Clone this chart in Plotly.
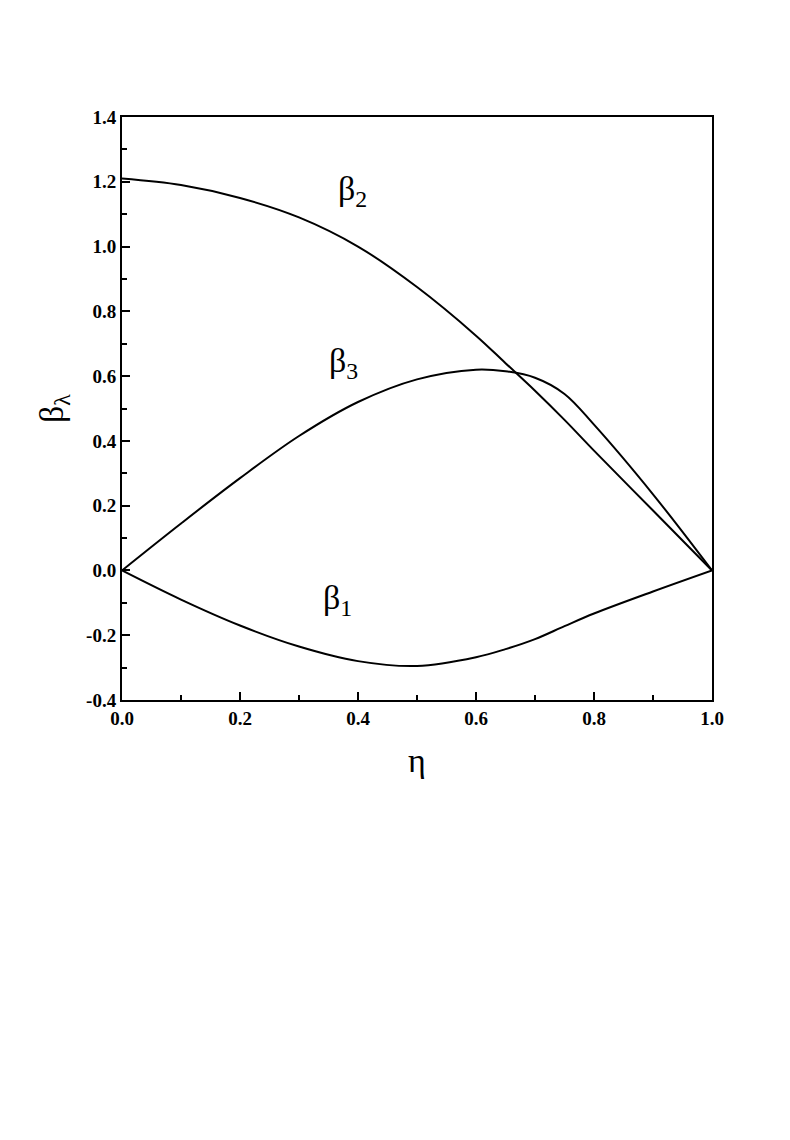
import plotly.graph_objects as go

# values
eta = [0.0, 0.1, 0.2, 0.3, 0.4, 0.5, 0.6, 0.65, 0.7, 0.75, 0.8, 0.9, 1.0]
beta2 = [1.21, 1.19, 1.15, 1.09, 1.0, 0.875, 0.725, 0.64, 0.555, 0.465, 0.37, 0.185, 0.0]
beta3 = [0.0, 0.145, 0.285, 0.415, 0.52, 0.59, 0.62, 0.615, 0.595, 0.545, 0.45, 0.235, 0.0]
beta1 = [0.0, -0.09, -0.17, -0.235, -0.28, -0.295, -0.268, -0.243, -0.212, -0.172, -0.133, -0.065, 0.0]

y_ticks = [-0.4, -0.2, 0.0, 0.2, 0.4, 0.6, 0.8, 1.0, 1.2, 1.4]
y_ticktext = ['-0.4', '-0.2', '0.0', '0.2', '0.4', '0.6', '0.8', '1.0', '1.2', '1.4']

lbl_txt = ['β<sub>2</sub>', 'β<sub>3</sub>', 'β<sub>1</sub>']
lbl_x = [0.39, 0.375, 0.365]
lbl_y = [1.17, 0.64, -0.09]

fnt = 'Liberation Serif'
fig = go.Figure()
for yy in [beta2, beta3, beta1]:
    fig.add_trace(go.Scatter(x=eta, y=yy, mode='lines', line=dict(color='black', width=2, shape='spline'),
                             showlegend=False))
for t, xx, yy in zip(lbl_txt, lbl_x, lbl_y):
    fig.add_annotation(x=xx, y=yy, text=t, showarrow=False, font=dict(family=fnt, size=34, color='black'))

ax = dict(showline=True, linecolor='black', linewidth=2, mirror=True, ticks='inside', ticklen=8,
          tickwidth=2, tickcolor='black', showgrid=False, zeroline=False,
          tickfont=dict(family=fnt, size=19, color='black', weight='bold'),
          minor=dict(ticks='inside', ticklen=5, tickwidth=1.5, tickcolor='black'))
fig.update_xaxes(ax, range=[0, 1], dtick=0.2, tickformat='.1f', minor_dtick=0.1,
                 title=dict(text='η', font=dict(family=fnt, size=34, color='black'), standoff=20))
fig.update_yaxes(ax, range=[-0.4, 1.4], tickvals=y_ticks, ticktext=y_ticktext, minor_dtick=0.1,
                 title=dict(text='β<sub>λ</sub>', font=dict(family=fnt, size=34, color='black'), standoff=12))
fig.update_layout(width=790, height=1140, plot_bgcolor='white', paper_bgcolor='white',
                  margin=dict(l=114, r=86, t=109, b=448))
fig.write_html("out.html")
